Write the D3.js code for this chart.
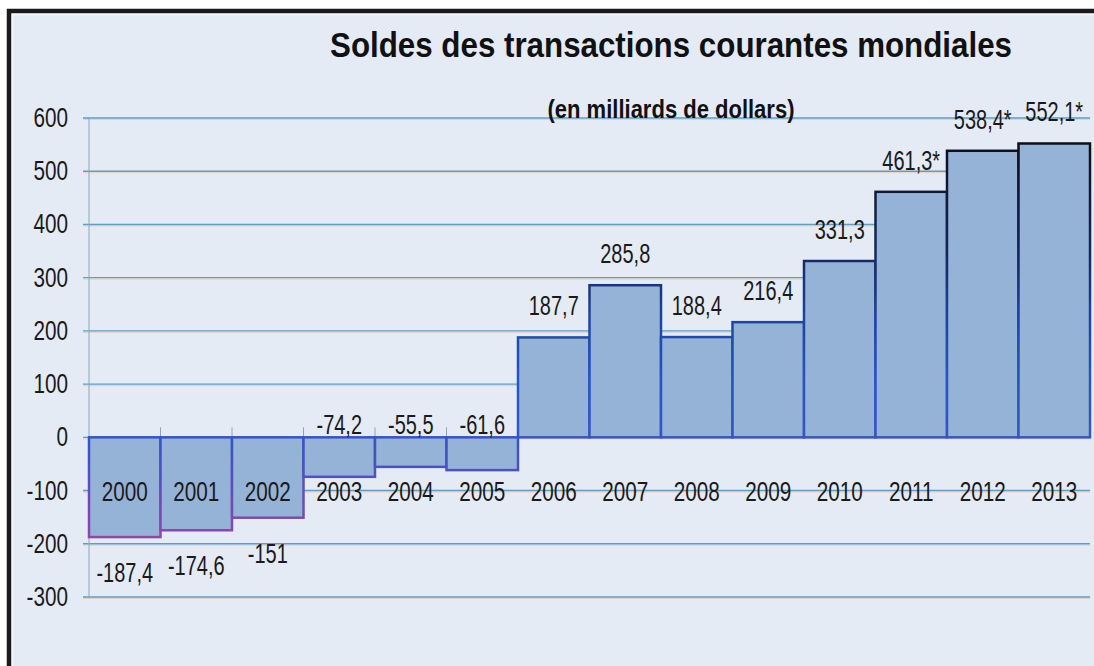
<!DOCTYPE html>
<html>
<head>
<meta charset="utf-8">
<script src="https://cdn.jsdelivr.net/npm/d3@7"></script>
<style>
  html, body { margin: 0; padding: 0; background: #fff; }
  svg { display: block; font-family: "Liberation Sans", Arial, sans-serif; }
</style>
</head>
<body>
<svg id="chart" width="1094" height="666"></svg>
<script>
const years = ["2000", "2001", "2002", "2003", "2004", "2005", "2006", "2007", "2008", "2009", "2010", "2011", "2012", "2013"];
const values = [-187.4, -174.6, -151, -74.2, -55.5, -61.6, 187.7, 285.8, 188.4, 216.4, 331.3, 461.3, 538.4, 552.1];
const labels = ["-187,4", "-174,6", "-151", "-74,2", "-55,5", "-61,6", "187,7", "285,8", "188,4", "216,4", "331,3", "461,3*", "538,4*", "552,1*"];
const yTicks = [600, 500, 400, 300, 200, 100, 0, -100, -200, -300];
const title = "Soldes des transactions courantes mondiales";
const subtitle = "(en milliards de dollars)";

const width = 1094, height = 666;
const squeeze = 0.74; // no narrow font installed, so squeeze the glyphs instead
const svg = d3.select("#chart");

// page frame
svg.append("rect").attr("x", 7).attr("y", 9).attr("width", width).attr("height", height)
  .attr("fill", "#e4ebf5");
svg.append("path").attr("d", `M9,${height} V11 H${width}`)
  .attr("fill", "none").attr("stroke", "#1a1a1a").attr("stroke-width", 4.5);
svg.append("path").attr("d", `M12.5,${height} V14.5 H${width}`)
  .attr("fill", "none").attr("stroke", "#f4f7fb").attr("stroke-width", 1.5);

const x = d3.scaleBand().domain(years).range([89, 1090]).padding(0);
const y = d3.scaleLinear().domain([-300, 600]).range([597, 118]);

// gridlines
const grid = svg.append("g");
grid.selectAll("line.shadow").data(yTicks).join("line").attr("class", "shadow")
  .attr("x1", 83).attr("x2", 1090)
  .attr("y1", d => y(d) + 1.5).attr("y2", d => y(d) + 1.5)
  .attr("stroke", "#e9cfc8").attr("stroke-width", 1);
grid.selectAll("line.g").data(yTicks).join("line").attr("class", "g")
  .attr("x1", 83).attr("x2", 1090)
  .attr("y1", d => y(d)).attr("y2", d => y(d))
  .attr("stroke", "#5c9ec4").attr("stroke-width", 1.4);

// y axis line
svg.append("line").attr("x1", 89).attr("x2", 89).attr("y1", y(600)).attr("y2", y(-300))
  .attr("stroke", "#8fa6b4").attr("stroke-width", 1);

// y tick labels
svg.append("g").selectAll("text").data(yTicks).join("text")
  .attr("transform", d => `translate(68,${y(d) + 9}) scale(${squeeze},1)`)
  .attr("text-anchor", "end")
  .attr("font-size", 28).attr("fill", "#1a1a1a")
  .text(d => d);

// category ticks above zero line
svg.append("g").selectAll("line").data(years.slice(1)).join("line")
  .attr("x1", d => x(d)).attr("x2", d => x(d))
  .attr("y1", y(0) - 10).attr("y2", y(0))
  .attr("stroke", "#8fa6b4").attr("stroke-width", 1);

// outline gradient: black at the top, blue around zero, purple at the bottom
const grad = svg.append("defs").append("linearGradient").attr("id", "edge")
  .attr("gradientUnits", "userSpaceOnUse")
  .attr("x1", 0).attr("x2", 0).attr("y1", y(560)).attr("y2", y(-190));
[[0, "#0d0d14"], [0.28, "#13265e"], [0.45, "#1d45a0"], [0.6, "#2456c0"], [0.78, "#3a55c4"], [0.9, "#6a4cb8"], [1, "#9048a8"]]
  .forEach(([o, c]) => grad.append("stop").attr("offset", o).attr("stop-color", c));

// bars
svg.append("g").selectAll("rect").data(values).join("rect")
  .attr("x", (d, i) => x(years[i]))
  .attr("width", x.bandwidth())
  .attr("y", d => y(Math.max(0, d)))
  .attr("height", d => Math.abs(y(d) - y(0)))
  .attr("fill", "#95b3d7")
  .attr("stroke", "url(#edge)")
  .attr("stroke-width", 2.5);

// category labels
svg.append("g").selectAll("text").data(years).join("text")
  .attr("transform", d => `translate(${x(d) + x.bandwidth() / 2},${y(-100) + 10}) scale(${squeeze},1)`)
  .attr("text-anchor", "middle")
  .attr("font-size", 28).attr("fill", "#1a1a1a")
  .text(d => d);

// value labels
const labelY = d => d >= 0 ? y(d) - 22 : (d < -100 ? y(d) + 45 : y(0) - 3);
svg.append("g").selectAll("text").data(values).join("text")
  .attr("transform", (d, i) => `translate(${x(years[i]) + x.bandwidth() / 2},${labelY(d)}) scale(${squeeze},1)`)
  .attr("text-anchor", "middle")
  .attr("font-size", 27).attr("fill", "#1a1a1a")
  .text((d, i) => labels[i]);

// titles
svg.append("text").attr("x", 671).attr("y", 57)
  .attr("text-anchor", "middle").attr("font-weight", "bold")
  .attr("font-size", 35).attr("fill", "#111")
  .attr("textLength", 682).attr("lengthAdjust", "spacingAndGlyphs")
  .text(title);
svg.append("text").attr("x", 671).attr("y", 118)
  .attr("text-anchor", "middle").attr("font-weight", "bold")
  .attr("font-size", 25).attr("fill", "#111")
  .attr("textLength", 247).attr("lengthAdjust", "spacingAndGlyphs")
  .text(subtitle);
</script>
</body>
</html>
